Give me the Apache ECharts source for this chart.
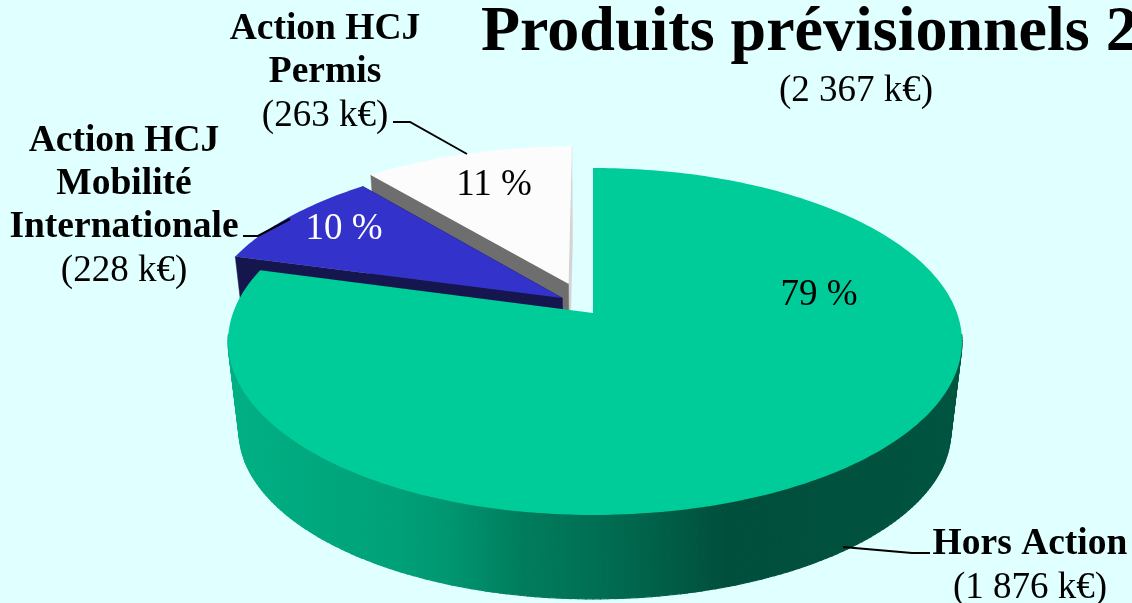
<!DOCTYPE html>
<html>
<head>
<meta charset="utf-8">
<style>html,body{margin:0;padding:0;background:#e0ffff;overflow:hidden}#main{width:1132px;height:603px}</style>
<script src="https://cdn.jsdelivr.net/npm/echarts@6/dist/echarts.min.js"></script>
</head>
<body>
<div id="main"></div>
<script>
// données (k€)
var categories = ['Hors Action', 'Action HCJ\nMobilité\nInternationale', 'Action HCJ\nPermis'];
var values = [1876, 228, 263];
var titleText = 'Produits prévisionnels 2';

// style
var serif = '"Liberation Serif", "Times New Roman", serif';
var topColors = ['#00cc99', '#3333cc', '#fcfcfc'];
var pctColors = ['#000', '#fff', '#000'];
var cutColors = ['#00805f', '#16164f', '#6e6e6e'];
var innerCutColor = ['#00805f', '#16164f', '#d4d4d4'];
var wallLeft = 228, wallRight = 962;
var wallStops = [[228, '#00b084'], [400, '#00a078'], [450, '#009670'], [520, '#007d5d'], [600, '#006e52'], [730, '#004e3c'], [962, '#005440']];
// partie visible de la paroi (degrés)
var wallFrom = 97, wallTo = 263;

// projection en perspective du disque
var cx = 593, cy = 313, Aleft = 360, Aright = 364, B = 168.8, k = 0.164;
var depth = 90, lowerScale = 0.97;
// écartement des parts (en rayons)
var explode = [[0, 0], [-0.087, 0.09], [-0.07, 0.178]];
// placement des textes et traits de rappel
var labelPos = [[1030, 544], [124, 141], [325, 29]];
var pctPos = [[819, 295], [344, 229], [494, 185]];
var leaders = [
	[[843, 547], [912, 553], [930, 553]],
	[[290, 219], [258, 236], [243, 236]],
	[[467, 154], [410, 122], [393, 122]]
];

var total = values.reduce(function (a, b) { return a + b; }, 0);

function money(v) {
	return '(' + String(v).replace(/\B(?=(\d{3})+$)/g, ' ') + ' k€)';
}

function project(x, y, lower) {
	var w = 1 / (1 + k * y);
	var s = lower ? lowerScale : 1;
	var A = x < 0 ? Aleft : Aright;
	return [cx + A * x * w * s, cy - B * y * w * s + (lower ? depth : 0)];
}

function rim(i, deg, lower) {
	var a = deg * Math.PI / 180;
	return project(explode[i][0] + Math.sin(a), explode[i][1] + Math.cos(a), lower);
}

// ombrage de la paroi : un seul dégradé en coordonnées écran
var wallFill = new echarts.graphic.LinearGradient(wallLeft, 0, wallRight, 0, wallStops.map(function (s) {
	return { offset: (s[0] - wallLeft) / (wallRight - wallLeft), color: s[1] };
}), true);

function poly(points, color, lw) {
	return {
		type: 'polygon',
		shape: { points: points },
		style: { fill: color, stroke: color, lineWidth: lw }
	};
}

function text(x, y, str, font, color) {
	return {
		type: 'text',
		x: x,
		y: y,
		style: { text: str, font: font, fill: color, align: 'center', verticalAlign: 'middle' }
	};
}

function renderItem(params, api) {
	var i = api.value(0);
	var start = 0;
	for (var n = 0; n < i; n++) start += values[n] / total * 360;
	var end = start + api.value(1) / total * 360;
	var children = [];
	var a, step = 1;

	var apex = project(explode[i][0], explode[i][1], false);
	var apexLow = project(explode[i][0], explode[i][1], true);

	if (i === 0) {
		// paroi extérieure
		for (a = wallFrom; a < wallTo; a += step) {
			children.push(poly([rim(i, a, false), rim(i, a + step, false), rim(i, a + step, true), rim(i, a, true)], wallFill, 1.2));
		}
	} else {
		// faces de coupe visibles
		children.push(poly([rim(i, end, false), apex, apexLow, rim(i, end, true)], innerCutColor[i], 0.5));
		children.push(poly([rim(i, start, false), apex, apexLow, rim(i, start, true)], cutColors[i], 0.5));
	}

	var top = [apex];
	for (a = start; a < end; a += step) top.push(rim(i, a, false));
	top.push(rim(i, end, false));
	children.push({ type: 'polygon', shape: { points: top }, style: { fill: topColors[i] } });

	// pourcentage
	var pct = Math.round(api.value(1) / total * 100) + ' %';
	children.push(text(pctPos[i][0], pctPos[i][1], pct, '37px ' + serif, pctColors[i]));

	// trait de rappel
	children.push({
		type: 'polyline',
		shape: { points: leaders[i] },
		style: { fill: null, stroke: '#000', lineWidth: 2 }
	});

	// étiquette
	var lines = categories[i].split('\n');
	lines.forEach(function (line, n) {
		children.push(text(labelPos[i][0], labelPos[i][1] + n * 43, line, 'bold 37.5px ' + serif, '#000'));
	});
	children.push(text(labelPos[i][0], labelPos[i][1] + lines.length * 43 + 1, money(api.value(1)), '37px ' + serif, '#000'));

	return { type: 'group', children: children };
}

var myChart = echarts.init(document.getElementById('main'));
var option = {
	backgroundColor: '#e0ffff',
	animation: false,
	graphic: [
		{ type: 'text', x: 481, y: 33, style: { text: titleText, font: 'bold 64px ' + serif, fill: '#000', verticalAlign: 'middle' } },
		{ type: 'text', x: 856, y: 91, style: { text: money(total), font: '37px ' + serif, fill: '#000', align: 'center', verticalAlign: 'middle' } }
	],
	series: [{
		type: 'custom',
		coordinateSystem: 'none',
		silent: true,
		renderItem: renderItem,
		// ordre de dessin : du fond vers l'avant
		data: [[2, values[2]], [1, values[1]], [0, values[0]]]
	}]
};
myChart.setOption(option);
</script>
</body>
</html>
